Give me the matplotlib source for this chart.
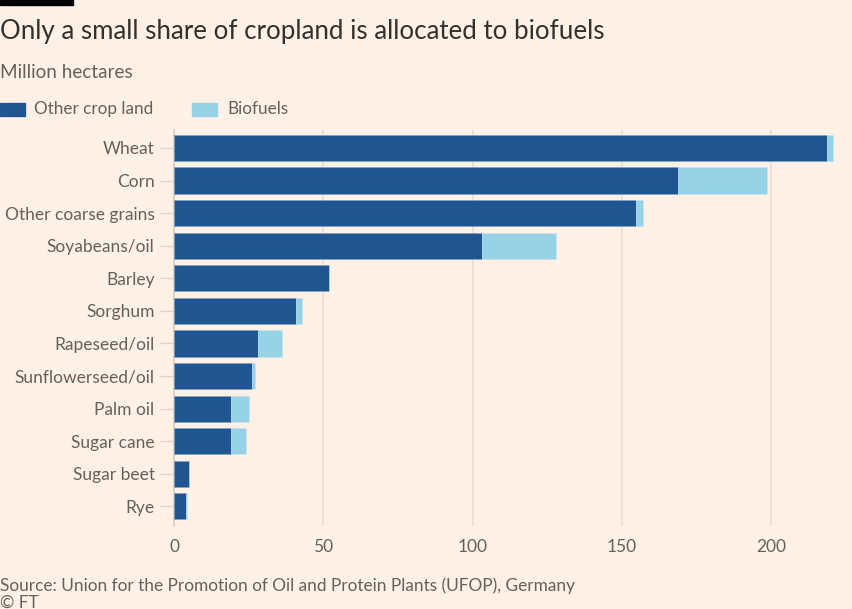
import matplotlib
matplotlib.use("Agg")
import matplotlib.pyplot as plt
from matplotlib.patches import Rectangle
import numpy as np

# data (million hectares)
crops = ["Wheat", "Corn", "Other coarse grains", "Soyabeans/oil", "Barley",
         "Sorghum", "Rapeseed/oil", "Sunflowerseed/oil", "Palm oil",
         "Sugar cane", "Sugar beet", "Rye"]
other_land = [218.7, 168.8, 154.8, 103.0, 52.0, 41.0, 28.1, 26.1, 19.1, 19.1, 5.1, 4.1]
biofuels = [1.9, 29.9, 2.1, 24.9, 0.0, 2.0, 8.0, 0.9, 5.9, 5.0, 0.0, 0.2]
xticks = [0, 50, 100, 150, 200]

BG = "#FFF1E5"
DARK = "#1F5591"
LIGHT = "#96D1E6"
TEXT = "#33302E"
GREY = "#66605C"
GRID = "#E9DED5"

plt.rcParams['font.family'] = ['Lato', 'DejaVu Sans']

fig = plt.figure(figsize=(8.52, 6.09), dpi=100, facecolor=BG)
ax = fig.add_axes([174 / 852, 1 - 526 / 609, 669 / 852, 396 / 609], facecolor=BG)

y = np.arange(len(crops))
ax.barh(y, other_land, height=0.8, color=DARK, edgecolor="#7FA3C7", linewidth=0.4, zorder=3)
ax.barh(y, biofuels, left=other_land, height=0.8, color=LIGHT, edgecolor="#C6E6F1",
        linewidth=0.4, zorder=3)

ax.set_xlim(0, 224)
ax.set_ylim(len(crops) - 0.4, -0.55)
ax.set_yticks(y)
ax.set_yticklabels(crops)
ax.set_xticks(xticks)
ax.set_xticklabels([str(t) for t in xticks])
ax.xaxis.grid(True, color=GRID, linewidth=1.2, zorder=0)
for s in ["top", "right", "bottom"]:
    ax.spines[s].set_visible(False)
ax.spines["left"].set_color("#D9CCC1")
ax.spines["left"].set_linewidth(1.2)
ax.tick_params(axis="y", length=10, width=1, color="#E0D3C8", labelsize=12.5,
               labelcolor=GREY, pad=4)
ax.tick_params(axis="x", length=0, labelsize=12.5, labelcolor=GREY, pad=9)

# header
fig.add_artist(Rectangle((0, 1 - 5 / 609), 73 / 852, 5 / 609, transform=fig.transFigure,
                         color="black"))
fig.text(0, 1 - 32 / 609, "Only a small share of cropland is allocated to biofuels",
         fontsize=18.6, color=TEXT, va="center", ha="left")
fig.text(0, 1 - 72 / 609, "Million hectares", fontsize=13.6, color=GREY,
         va="center", ha="left")

# legend
fig.add_artist(Rectangle((0, 1 - 116 / 609), 25 / 852, 13 / 609, transform=fig.transFigure,
                         color=DARK))
fig.text(34 / 852, 1 - 109 / 609, "Other crop land", fontsize=12.3, color=GREY,
         va="center", ha="left")
fig.add_artist(Rectangle((192 / 852, 1 - 116 / 609), 25 / 852, 13 / 609,
                         transform=fig.transFigure, color=LIGHT))
fig.text(227 / 852, 1 - 109 / 609, "Biofuels", fontsize=12.3, color=GREY,
         va="center", ha="left")

# footer
fig.text(0, 1 - 586 / 609, "Source: Union for the Promotion of Oil and Protein Plants (UFOP), Germany",
         fontsize=12.4, color=GREY, va="center", ha="left")
fig.text(0, 1 - 603 / 609, "© FT", fontsize=12.4, color=GREY, va="center", ha="left")

fig.savefig("out.png", dpi=100, facecolor=BG)
